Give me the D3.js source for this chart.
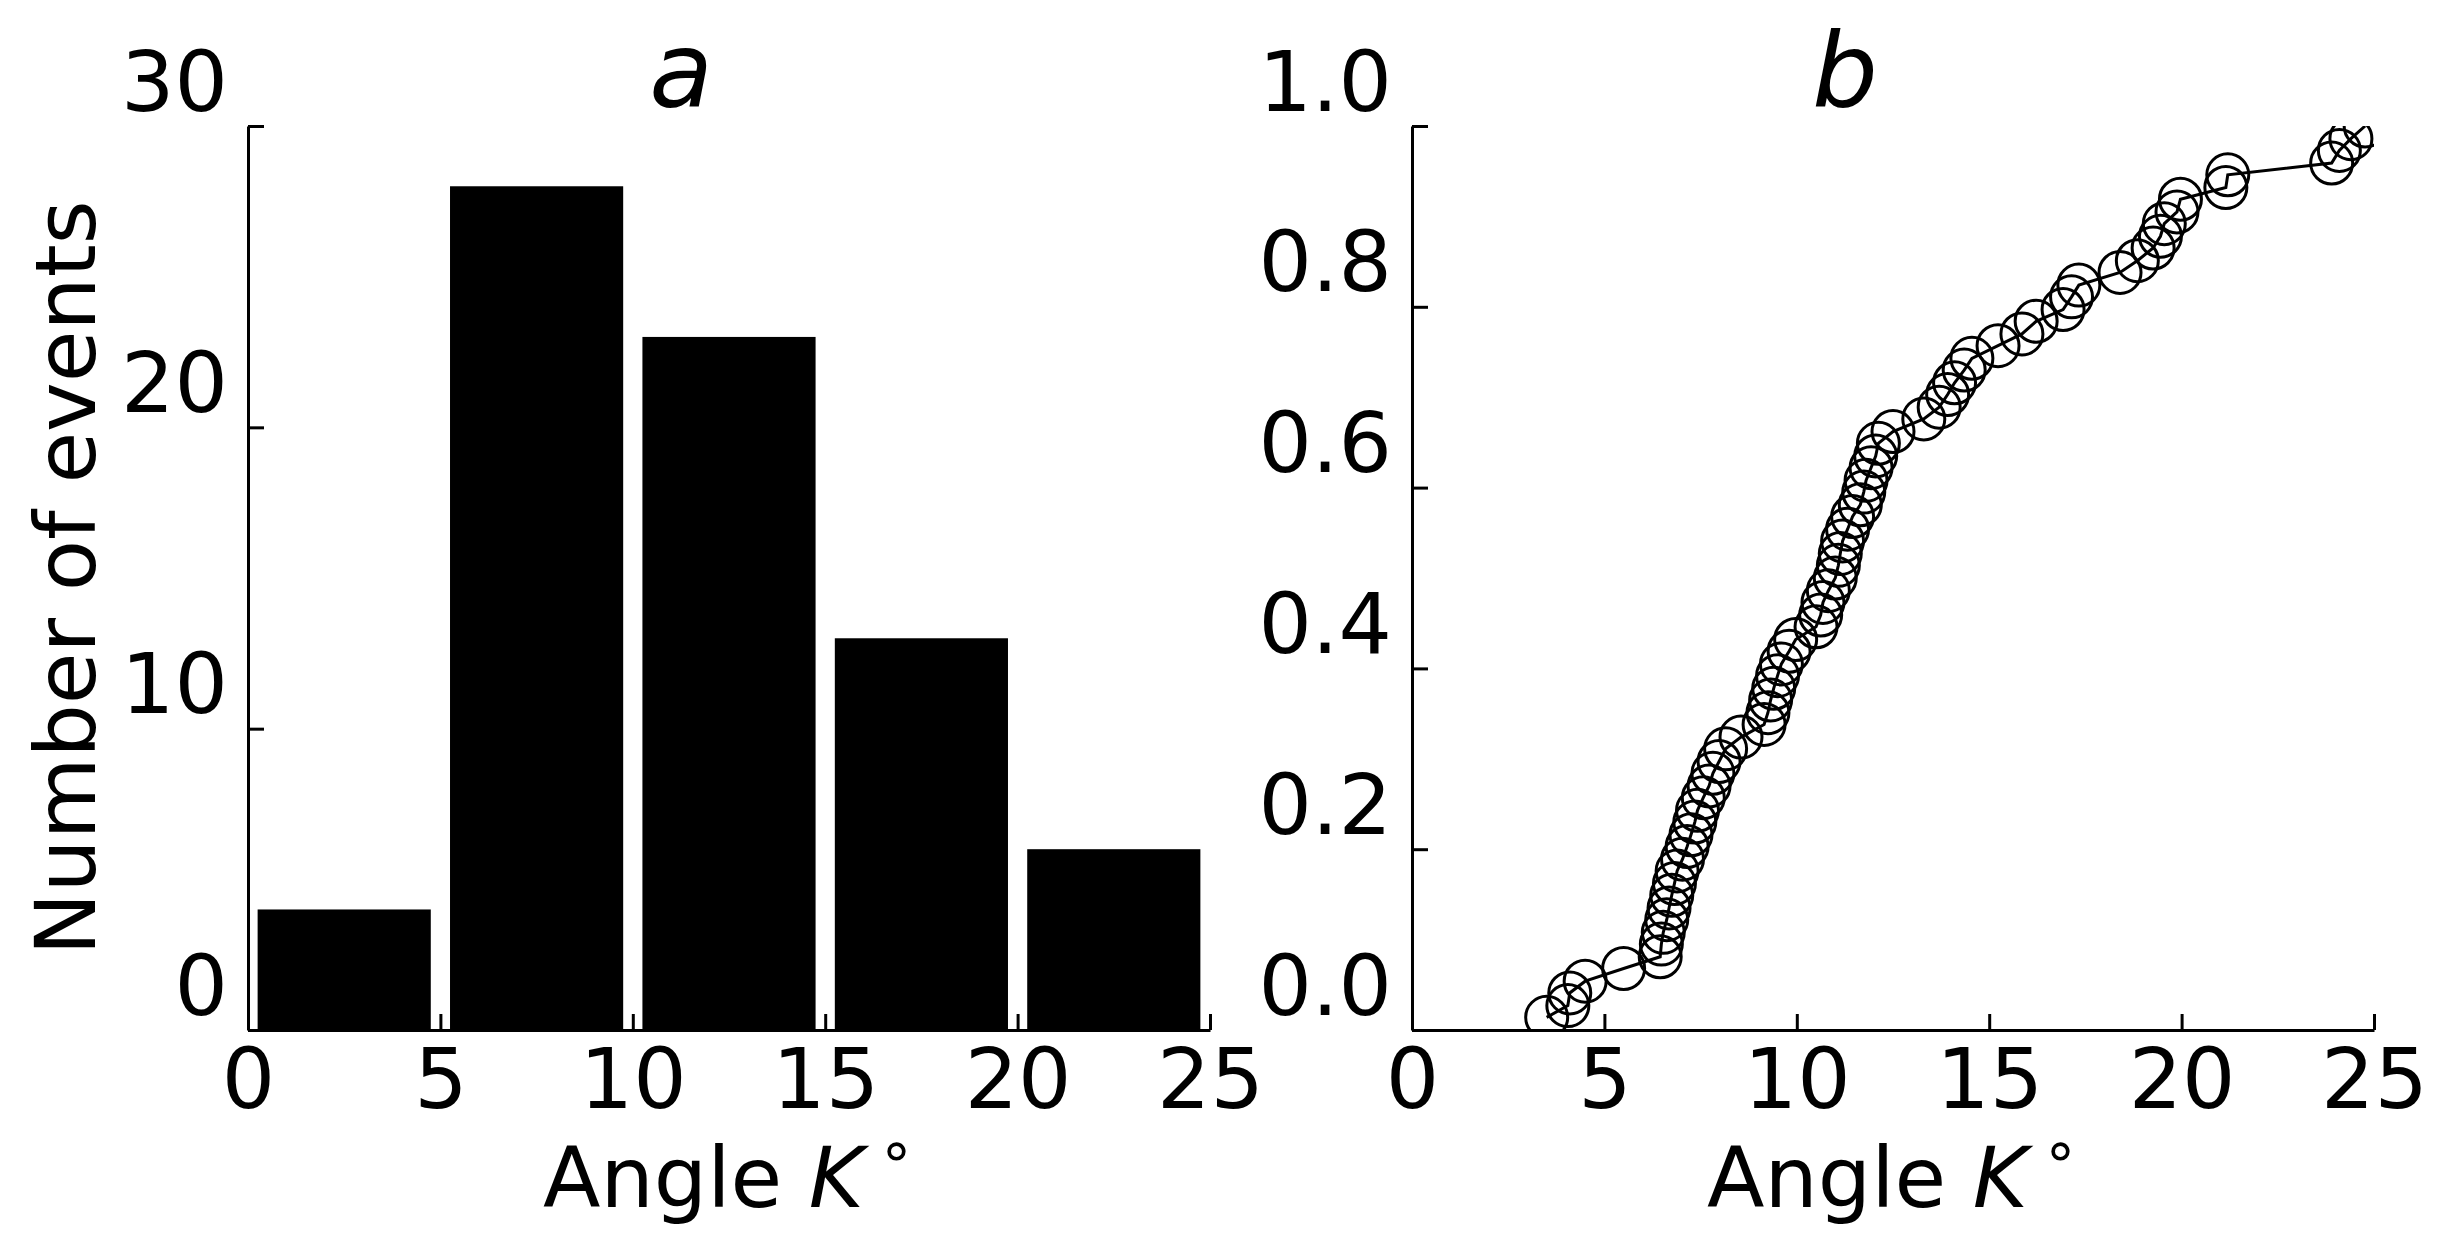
<!DOCTYPE html>
<html>
<head>
<meta charset="utf-8">
<script src="https://cdn.jsdelivr.net/npm/d3@7"></script>
<style>
  body { margin: 0; background: #fff; overflow: hidden; }
  svg { display: block; }
  text { font-family: "DejaVu Sans", sans-serif; fill: #000; }
</style>
</head>
<body>
<script>
// histogram (panel a)
const binEdges = [0, 5, 10, 15, 20, 25];
const binCounts = [4, 28, 23, 13, 6];
const countTicks = [0, 10, 20, 30];
const angleTicks = [0, 5, 10, 15, 20, 25];

// cumulative distribution (panel b), sorted angles and their cumulative fraction
const kAngles = [
  3.5, 4.05, 4.1, 4.5, 5.5, 6.45, 6.48, 6.53, 6.62, 6.68,
  6.75, 6.82, 6.89, 7.03, 7.15, 7.25, 7.35, 7.42, 7.57, 7.72,
  7.82, 7.98, 8.15, 8.55, 9.15, 9.25, 9.32, 9.4, 9.5, 9.6,
  9.8, 9.97, 10.5, 10.62, 10.68, 10.82, 11.0, 11.08, 11.13, 11.19,
  11.32, 11.45, 11.65, 11.74, 11.8, 11.93, 12.05, 12.12, 12.5, 13.3,
  13.7, 13.92, 14.1, 14.35, 14.55, 15.23, 15.85, 16.22, 16.92, 17.14,
  17.33, 18.4, 18.85, 19.26, 19.45, 19.55, 19.88, 19.97, 21.15, 21.2,
  23.9, 24.1, 24.4, 24.77
];
const cumFraction = [
  0.014, 0.027, 0.041, 0.054, 0.068, 0.081, 0.095, 0.108, 0.122, 0.135,
  0.149, 0.162, 0.176, 0.189, 0.203, 0.216, 0.230, 0.243, 0.257, 0.270,
  0.284, 0.297, 0.311, 0.324, 0.338, 0.351, 0.365, 0.378, 0.392, 0.405,
  0.419, 0.432, 0.446, 0.459, 0.473, 0.486, 0.500, 0.514, 0.527, 0.541,
  0.554, 0.568, 0.581, 0.595, 0.608, 0.622, 0.635, 0.649, 0.662, 0.676,
  0.689, 0.703, 0.716, 0.730, 0.743, 0.757, 0.770, 0.784, 0.797, 0.811,
  0.824, 0.838, 0.851, 0.865, 0.878, 0.892, 0.905, 0.919, 0.932, 0.946,
  0.959, 0.973, 0.986, 1.000
];
const fractionTicks = [0, 0.2, 0.4, 0.6, 0.8, 1.0];

const fontSize = 84;
const tickLen = 16;

const svg = d3.select('body').append('svg')
    .attr('width', 2455)
    .attr('height', 1255);

function panel(left, top) {
    return svg.append('g').attr('transform', `translate(${left}, ${top})`);
}

const width = 962;
const height = 904;

function styleAxis(g) {
    g.attr('font-family', '"DejaVu Sans", sans-serif')
        .attr('font-size', fontSize);
    g.selectAll('path, line')
        .attr('stroke', '#000')
        .attr('stroke-width', 3);
}

function drawAxes(g, x, y, yTicks, yFormat) {
    const xAxis = d3.axisBottom(x)
        .tickValues(angleTicks)
        .tickSizeInner(-tickLen)
        .tickSizeOuter(0)
        .tickPadding(18)
        .tickFormat(d3.format('d'));
    g.append('g')
        .attr('transform', `translate(0, ${height})`)
        .call(xAxis)
        .call(styleAxis);

    const yAxis = d3.axisLeft(y)
        .tickValues(yTicks)
        .tickSizeInner(-tickLen)
        .tickSizeOuter(0)
        .tickPadding(20)
        .tickFormat(yFormat);
    g.append('g')
        .call(yAxis)
        .call(styleAxis)
        .selectAll('text')
        .attr('dy', -16);
}

function xLabel(g) {
    const t = g.append('text')
        .attr('x', width / 2)
        .attr('y', height + 177)
        .attr('text-anchor', 'middle')
        .style('font-size', fontSize + 'px');
    t.append('tspan').text('Angle ');
    t.append('tspan').style('font-style', 'italic').text('K');
    t.append('tspan')
        .attr('dx', 14)
        .attr('dy', -37)
        .style('font-size', '59px')
        .text('\u2218');
}

function title(g, s) {
    g.append('text')
        .attr('x', width / 2 - 48)
        .attr('y', -19)
        .attr('text-anchor', 'middle')
        .style('font-size', '104px')
        .style('font-style', 'italic')
        .text(s);
}

// ---- panel a: histogram
const gA = panel(248, 126);

const xA = d3.scaleLinear().domain([0, 25]).range([0, width]);
const yA = d3.scaleLinear().domain([0, 30]).range([height, 0]);

const barPad = 0.25; // rwidth 0.9 of a 5 degree bin
gA.selectAll('.bar')
    .data(binCounts)
    .enter()
    .append('rect')
    .attr('class', 'bar')
    .attr('x', (d, i) => xA(binEdges[i] + barPad))
    .attr('width', (d, i) => xA(binEdges[i + 1] - barPad) - xA(binEdges[i] + barPad))
    .attr('y', d => yA(d))
    .attr('height', d => yA(0) - yA(d))
    .attr('fill', '#000');

drawAxes(gA, xA, yA, countTicks, d3.format('d'));
xLabel(gA);
title(gA, 'a');

gA.append('text')
    .attr('transform', `translate(-153, ${height / 2}) rotate(-90)`)
    .attr('text-anchor', 'middle')
    .style('font-size', fontSize + 'px')
    .text('Number of events');

// ---- panel b: cumulative fraction
const gB = panel(1412, 126);

const xB = d3.scaleLinear().domain([0, 25]).range([0, width]);
const yB = d3.scaleLinear().domain([0, 1]).range([height, 0]);

gB.append('clipPath')
    .attr('id', 'clipB')
  .append('rect')
    .attr('width', width)
    .attr('height', height);

const pts = kAngles.map((k, i) => [k, cumFraction[i]]);

const plot = gB.append('g').attr('clip-path', 'url(#clipB)');

plot.append('path')
    .datum(pts)
    .attr('fill', 'none')
    .attr('stroke', '#000')
    .attr('stroke-width', 3)
    .attr('d', d3.line().x(d => xB(d[0])).y(d => yB(d[1])));

plot.selectAll('.pt')
    .data(pts)
    .enter()
    .append('circle')
    .attr('class', 'pt')
    .attr('cx', d => xB(d[0]))
    .attr('cy', d => yB(d[1]))
    .attr('r', 21)
    .attr('fill', 'none')
    .attr('stroke', '#000')
    .attr('stroke-width', 3);

drawAxes(gB, xB, yB, fractionTicks, d3.format('.1f'));
xLabel(gB);
title(gB, 'b');
</script>
</body>
</html>
